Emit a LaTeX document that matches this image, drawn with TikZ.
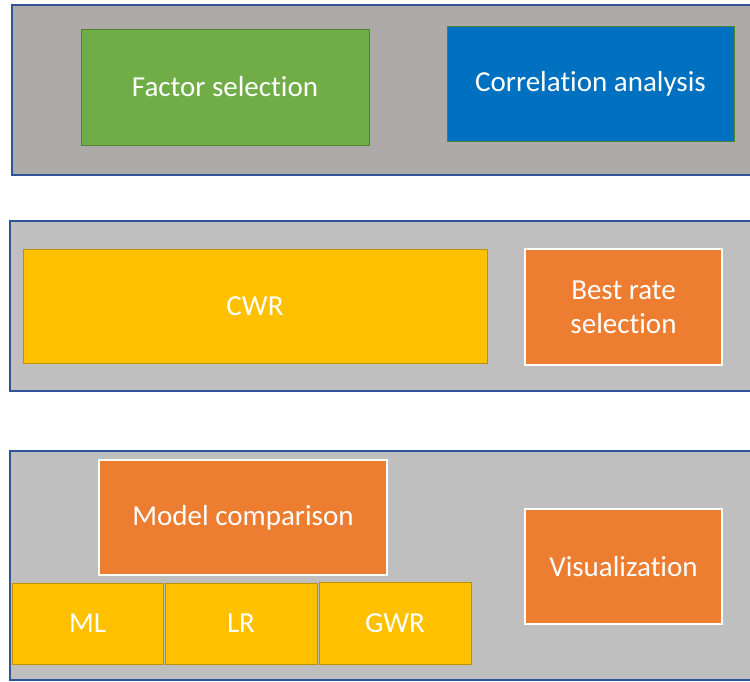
\documentclass[tikz,border=0pt]{standalone}
\usepackage{fontspec}
\setmainfont[Ligatures=NoCommon]{Carlito}
\definecolor{panelA}{HTML}{AEAAAA}
\definecolor{panelB}{HTML}{BFBFBF}
\definecolor{panelLine}{HTML}{2F5597}
\definecolor{greenF}{HTML}{70AD47}
\definecolor{greenD}{HTML}{548235}
\definecolor{blueF}{HTML}{0070C0}
\definecolor{goldF}{HTML}{FFC000}
\definecolor{goldD}{HTML}{BF9000}
\definecolor{orangeF}{HTML}{ED7D31}
\tikzset{
  panel/.style={draw=panelLine, line width=1.2pt, inner sep=0pt, rectangle},
  box/.style={rectangle, inner sep=0pt, text=white, align=center,
    font=\fontsize{29}{34}\selectfont},
  greenbox/.style={box, fill=greenF, draw=greenD, line width=1pt},
  bluebox/.style={box, fill=blueF, draw=greenD, line width=0.8pt},
  goldbox/.style={box, fill=goldF, draw=goldD, line width=1pt},
  orangebox/.style={box, fill=orangeF, draw=white, line width=2pt},
}
\begin{document}
\begin{tikzpicture}[x=1pt,y=-1pt]
\useasboundingbox (0,0) rectangle (750,681);
\fill[white] (0,0) rectangle (750,681);
% panels
\node[panel, fill=panelA, minimum width=742pt, minimum height=170pt] (p1) at (383,90) {};
\node[panel, fill=panelB, minimum width=744pt, minimum height=170pt] (p2) at (382,306) {};
\node[panel, fill=panelB, minimum width=744pt, minimum height=229pt] (p3) at (382,565.5) {};
% row 1
\node[greenbox, minimum width=288pt, minimum height=116pt] (fs) at (225,87) {Factor selection};
\node[bluebox, minimum width=287pt, minimum height=115pt] (ca) at (590.5,83.5) {Correlation analysis};
% row 2
\node[goldbox, minimum width=464pt, minimum height=114pt] (cwr) at (255,306) {CWR};
\node[orangebox, minimum width=197pt, minimum height=116pt] (brs) at (623.5,307) {Best rate\\selection};
% row 3
\node[orangebox, minimum width=288pt, minimum height=115pt] (mc) at (243,517.5) {Model comparison};
\node[goldbox, minimum width=151pt, minimum height=81pt] (ml) at (87.5,623.5) {ML};
\node[goldbox, minimum width=152pt, minimum height=81pt] (lr) at (241,623.5) {LR};
\node[goldbox, minimum width=152pt, minimum height=82pt] (gwr) at (395,623) {GWR};
\node[orangebox, minimum width=197pt, minimum height=115pt] (vis) at (623.5,566.5) {Visualization};
\end{tikzpicture}
\end{document}
